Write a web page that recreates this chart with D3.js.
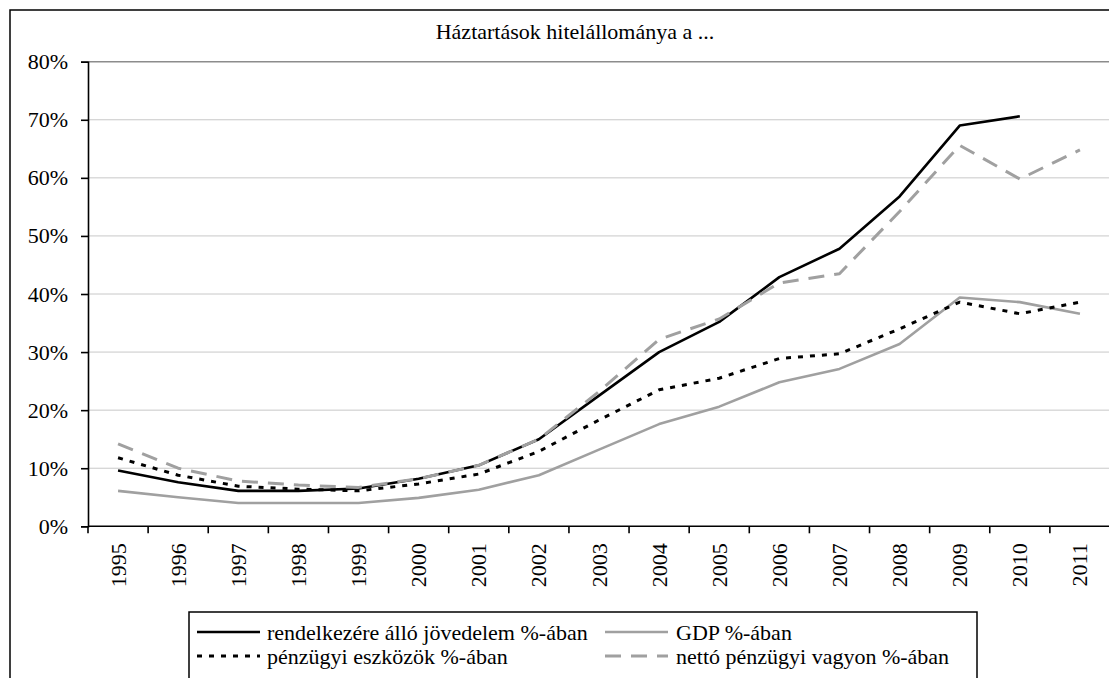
<!DOCTYPE html>
<html>
<head>
<meta charset="utf-8">
<script src="https://cdn.jsdelivr.net/npm/d3@7"></script>
<style>
  html, body { margin: 0; padding: 0; background: #fff; }
  svg { display: block; font-family: "Liberation Serif", "Times New Roman", serif; }
</style>
</head>
<body>
<svg id="chart" width="1109" height="678"></svg>
<script>
// Household loan stock, as a share of various aggregates (%)
const years = ["1995","1996","1997","1998","1999","2000","2001","2002","2003",
               "2004","2005","2006","2007","2008","2009","2010","2011"];
const disposableIncome = [9.6, 7.6, 6.1, 6.1, 6.5, 8.2, 10.5, 15.0, 22.5, 30.0, 35.2, 42.9, 47.8, 56.8, 69.0, 70.6, null];
const gdp              = [6.1, 5.0, 4.0, 4.0, 4.0, 4.9, 6.3, 8.8, 13.2, 17.6, 20.6, 24.8, 27.1, 31.4, 39.4, 38.6, 36.6];
const financialAssets  = [11.8, 8.8, 6.9, 6.4, 6.1, 7.3, 9.0, 12.9, 18.3, 23.5, 25.5, 28.9, 29.7, 34.0, 38.6, 36.6, 38.6];
const netWealth        = [14.2, 10.0, 7.8, 7.1, 6.7, 8.2, 10.5, 15.0, 23.2, 32.2, 35.7, 41.9, 43.5, 54.2, 65.6, 59.8, 64.8];
const yTicks = [0, 10, 20, 30, 40, 50, 60, 70, 80];

const seriesNames = [
  "rendelkezére álló jövedelem %-ában",
  "GDP %-ában",
  "pénzügyi eszközök %-ában",
  "nettó pénzügyi vagyon %-ában"
];

const series = [
  { name: seriesNames[0], values: disposableIncome, color: "#000000", width: 2.6, dash: null },
  { name: seriesNames[1], values: gdp,              color: "#a0a0a0", width: 2.6, dash: null },
  { name: seriesNames[2], values: financialAssets,  color: "#000000", width: 3,   dash: "5,7" },
  { name: seriesNames[3], values: netWealth,        color: "#a0a0a0", width: 3,   dash: "16,10" }
];

const svg = d3.select("#chart");
const plot = { left: 88, right: 1110, top: 61.7, bottom: 526.3 };

// outer chart border
svg.append("rect")
  .attr("x", 10).attr("y", 10)
  .attr("width", 1130).attr("height", 700)
  .attr("fill", "#fff").attr("stroke", "#000").attr("stroke-width", 1.5);

// title
svg.append("text")
  .attr("x", 575).attr("y", 31)
  .attr("text-anchor", "middle").attr("dominant-baseline", "central")
  .attr("font-size", 22).attr("fill", "#000")
  .text("Háztartások hitelállománya a ...");

const x = d3.scaleBand().domain(years).range([plot.left, plot.right]);
const y = d3.scaleLinear().domain([0, 80]).range([plot.bottom, plot.top]);

// horizontal gridlines
svg.append("g")
  .selectAll("line")
  .data(yTicks.filter(t => t > 0))
  .join("line")
  .attr("x1", plot.left).attr("x2", plot.right)
  .attr("y1", d => y(d)).attr("y2", d => y(d))
  .attr("stroke", d => d === 80 ? "#8c8c8c" : "#c8c8c8")
  .attr("stroke-width", d => d === 80 ? 1.5 : 1);

// y axis
const yAxis = svg.append("g")
  .attr("transform", `translate(${plot.left},0)`)
  .call(d3.axisLeft(y).tickValues(yTicks).tickFormat(d => d + "%").tickSize(7).tickPadding(13));
yAxis.select(".domain").attr("stroke", "#000").attr("stroke-width", 1.6);
yAxis.selectAll(".tick line").attr("stroke", "#000").attr("stroke-width", 1.6);
yAxis.selectAll(".tick text")
  .attr("font-family", "Liberation Serif, Times New Roman, serif")
  .attr("font-size", 22).attr("fill", "#000");

// x axis: ticks between categories
const xAxis = svg.append("g").attr("transform", `translate(0,${plot.bottom})`);
xAxis.append("line")
  .attr("x1", plot.left).attr("x2", plot.right)
  .attr("stroke", "#000").attr("stroke-width", 1.6);
const boundaries = years.map(yr => x(yr)).concat([x(years[years.length - 1]) + x.bandwidth()]);
xAxis.selectAll("line.tk")
  .data(boundaries)
  .join("line").attr("class", "tk")
  .attr("x1", d => d).attr("x2", d => d)
  .attr("y1", 0).attr("y2", 7)
  .attr("stroke", "#000").attr("stroke-width", 1.6);
xAxis.selectAll("text")
  .data(years)
  .join("text")
  .attr("transform", d => `translate(${x(d) + x.bandwidth() / 2},17) rotate(-90)`)
  .attr("text-anchor", "end")
  .attr("dominant-baseline", "central")
  .attr("font-size", 22).attr("fill", "#000")
  .text(d => d);

// series lines
const line = d3.line()
  .defined(d => d.v != null)
  .x(d => x(d.year) + x.bandwidth() / 2)
  .y(d => y(d.v));

svg.append("g")
  .selectAll("path")
  .data(series)
  .join("path")
  .attr("d", s => line(s.values.map((v, i) => ({ year: years[i], v }))))
  .attr("fill", "none")
  .attr("stroke", s => s.color)
  .attr("stroke-width", s => s.width)
  .attr("stroke-dasharray", s => s.dash)
  .attr("stroke-linejoin", "round");

// legend
const legend = svg.append("g");
legend.append("rect")
  .attr("x", 189).attr("y", 612)
  .attr("width", 788).attr("height", 80)
  .attr("fill", "#fff").attr("stroke", "#000").attr("stroke-width", 1.5);

const legendPos = [
  { sx: 197, tx: 267, ty: 632 },
  { sx: 605, tx: 676, ty: 632 },
  { sx: 197, tx: 267, ty: 656 },
  { sx: 605, tx: 676, ty: 656 }
];
const items = legend.selectAll("g.item")
  .data(series)
  .join("g").attr("class", "item");
items.append("line")
  .attr("x1", (d, i) => legendPos[i].sx)
  .attr("x2", (d, i) => legendPos[i].sx + 63)
  .attr("y1", (d, i) => legendPos[i].ty)
  .attr("y2", (d, i) => legendPos[i].ty)
  .attr("stroke", d => d.color)
  .attr("stroke-width", d => d.width)
  .attr("stroke-dasharray", d => d.dash);
items.append("text")
  .attr("x", (d, i) => legendPos[i].tx)
  .attr("y", (d, i) => legendPos[i].ty)
  .attr("dominant-baseline", "central")
  .attr("font-size", 22).attr("fill", "#000")
  .text(d => d.name);
</script>
</body>
</html>
